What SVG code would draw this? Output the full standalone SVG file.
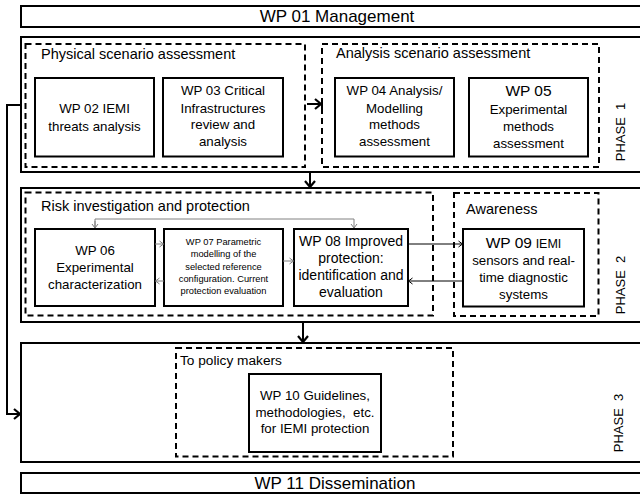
<svg xmlns="http://www.w3.org/2000/svg" width="640" height="495" viewBox="0 0 640 495">
<style>
text{font-family:"Liberation Sans",Arial,sans-serif;fill:#000}
.outer{fill:none;stroke:#000;stroke-width:2}
.dash{fill:none;stroke:#000;stroke-width:2;stroke-dasharray:6 4}
.wp{fill:#fff;stroke:#000;stroke-width:2}
.t{font-size:13.3px;text-anchor:middle}
.h{font-size:14.5px}
.big{font-size:17px;text-anchor:middle}
.ph{font-size:13px;text-anchor:middle;white-space:pre}
.sm7{font-size:9.3px;text-anchor:middle}
.c2{fill:none;stroke:#000;stroke-width:2}
.c1{fill:none;stroke:#000;stroke-width:1}
.cg{fill:none;stroke:#808080;stroke-width:1}
</style>
<defs>
<marker id="mb" markerUnits="userSpaceOnUse" markerWidth="14" markerHeight="14" refX="10" refY="7" orient="auto"><path d="M4,2 L10,7 L4,12" fill="none" stroke="#000" stroke-width="2.2"/></marker>
<marker id="mk" markerUnits="userSpaceOnUse" markerWidth="10" markerHeight="10" refX="7" refY="5" orient="auto"><path d="M3,2 L7,5 L3,8" fill="none" stroke="#000" stroke-width="1"/></marker>
<marker id="mg" markerUnits="userSpaceOnUse" markerWidth="10" markerHeight="10" refX="7" refY="5" orient="auto"><path d="M3,2 L7,5 L3,8" fill="none" stroke="#808080" stroke-width="1"/></marker>
</defs>
<rect width="640" height="495" fill="#fff"/>

<g id="wp01">
<rect class="outer" x="21" y="6" width="640" height="21"/>
<text class="big" x="337" y="22">WP 01 Management</text>
</g>

<g id="phase1">
<rect class="outer" x="21" y="37" width="640" height="135"/>
<text class="ph" transform="translate(624.5,132) rotate(-90)">PHASE  1</text>
</g>
<g id="physical">
<rect class="dash" x="25.5" y="44" width="279.5" height="123"/>
<text class="h" x="41" y="59">Physical scenario assessment</text>
</g>
<g id="wp02">
<rect class="wp" x="35" y="78" width="119" height="78.5"/>
<text class="t" x="94.5" y="113">WP 02 IEMI</text>
<text class="t" x="94.5" y="130.5">threats analysis</text>
</g>
<g id="wp03">
<rect class="wp" x="163" y="78" width="120" height="78.5"/>
<text class="t" x="223" y="95">WP 03 Critical</text>
<text class="t" x="223" y="112.5">Infrastructures</text>
<text class="t" x="223" y="129">review and</text>
<text class="t" x="223" y="146">analysis</text>
</g>
<g id="analysis">
<rect class="dash" x="322" y="44" width="277" height="123"/>
<text class="h" x="336" y="58">Analysis scenario assessment</text>
</g>
<g id="wp04">
<rect class="wp" x="335" y="78" width="119" height="78.5"/>
<text class="t" x="394.5" y="95">WP 04 Analysis/</text>
<text class="t" x="394.5" y="112.5">Modelling</text>
<text class="t" x="394.5" y="129">methods</text>
<text class="t" x="394.5" y="146">assessment</text>
</g>
<g id="wp05">
<rect class="wp" x="469" y="78" width="119" height="78.5"/>
<text class="t" x="528.5" y="96" style="font-size:15.5px">WP 05</text>
<text class="t" x="528.5" y="114">Experimental</text>
<text class="t" x="528.5" y="131">methods</text>
<text class="t" x="528.5" y="148">assessment</text>
</g>

<g id="phase2">
<rect class="outer" x="21" y="188" width="640" height="134"/>
<text class="ph" transform="translate(624.5,285) rotate(-90)">PHASE  2</text>
</g>
<g id="risk">
<rect class="dash" x="25.5" y="192.5" width="407.5" height="123"/>
<text class="h" x="41" y="210.5">Risk investigation and protection</text>
</g>
<g id="wp06">
<rect class="wp" x="35" y="229" width="120" height="77"/>
<text class="t" x="95" y="255">WP 06</text>
<text class="t" x="95" y="272">Experimental</text>
<text class="t" x="95" y="289">characterization</text>
</g>
<g id="wp07">
<rect class="wp" x="164" y="229" width="119" height="77"/>
<text class="sm7" x="223.5" y="245">WP 07 Parametric</text>
<text class="sm7" x="223.5" y="257.3">modelling of the</text>
<text class="sm7" x="223.5" y="269.6">selected reference</text>
<text class="sm7" x="223.5" y="282">configuration. Current</text>
<text class="sm7" x="223.5" y="294.3">protection  evaluation</text>
</g>
<g id="wp08">
<rect class="wp" x="294" y="229" width="114" height="77"/>
<text class="t" x="351" y="246" style="font-size:14px">WP 08 Improved</text>
<text class="t" x="351" y="263" style="font-size:14px">protection:</text>
<text class="t" x="351" y="280" style="font-size:14px">identification and</text>
<text class="t" x="351" y="297" style="font-size:14px">evaluation</text>
</g>
<g id="awareness">
<rect class="dash" x="454" y="193" width="144.5" height="123"/>
<text class="h" x="466" y="214">Awareness</text>
</g>
<g id="wp09">
<rect class="wp" x="463" y="229" width="121" height="77.5"/>
<text class="t" x="523.5" y="247.5"><tspan style="font-size:15.5px">WP 09</tspan> <tspan style="font-size:12.5px">IEMI</tspan></text>
<text class="t" x="523.5" y="265">sensors and real-</text>
<text class="t" x="523.5" y="282">time diagnostic</text>
<text class="t" x="523.5" y="299">systems</text>
</g>

<g id="phase3">
<rect class="outer" x="21" y="343" width="640" height="119"/>
<text class="ph" transform="translate(623,423) rotate(-90)">PHASE  3</text>
</g>
<g id="policy">
<rect class="dash" x="176" y="348" width="277" height="108.5"/>
<text class="h" x="180" y="365" style="font-size:13.7px">To policy makers</text>
</g>
<g id="wp10">
<rect class="wp" x="249" y="374" width="132" height="78"/>
<text class="t" x="315" y="400">WP 10 Guidelines,</text>
<text class="t" x="315" y="416.5" style="white-space:pre">methodologies,  etc.</text>
<text class="t" x="315" y="433">for IEMI protection</text>
</g>

<g id="wp11">
<rect class="outer" x="21" y="473" width="640" height="20"/>
<text class="big" x="335" y="488.5">WP 11 Dissemination</text>
</g>

<g id="connectors">
<polyline class="c2" points="21,105 7,105 7,414 20,414" marker-end="url(#mb)"/>
<line class="c2" x1="310" y1="172" x2="310" y2="187" marker-end="url(#mb)"/>
<line class="c2" x1="303" y1="322" x2="303" y2="342" marker-end="url(#mb)"/>
<line class="c2" x1="307" y1="104" x2="321" y2="104" marker-end="url(#mb)"/>
<line class="c2" x1="322" y1="99" x2="322" y2="109"/>
<path class="cg" d="M95,228 V219 H354 V228" marker-start="url(#mg)" marker-end="url(#mg)" style="marker-start:none"/>
<line class="cg" x1="95" y1="221" x2="95" y2="228" marker-end="url(#mg)"/>
<line class="cg" x1="155" y1="244" x2="163.5" y2="244" marker-end="url(#mg)"/>
<line class="cg" x1="164" y1="281" x2="155.5" y2="281" marker-end="url(#mg)"/>
<line class="cg" x1="283" y1="261" x2="293.5" y2="261" marker-end="url(#mg)"/>
<line class="c1" x1="408" y1="244" x2="462.5" y2="244" marker-end="url(#mk)"/>
<line class="c1" x1="463" y1="281" x2="408.5" y2="281" marker-end="url(#mk)"/>
</g>
</svg>
